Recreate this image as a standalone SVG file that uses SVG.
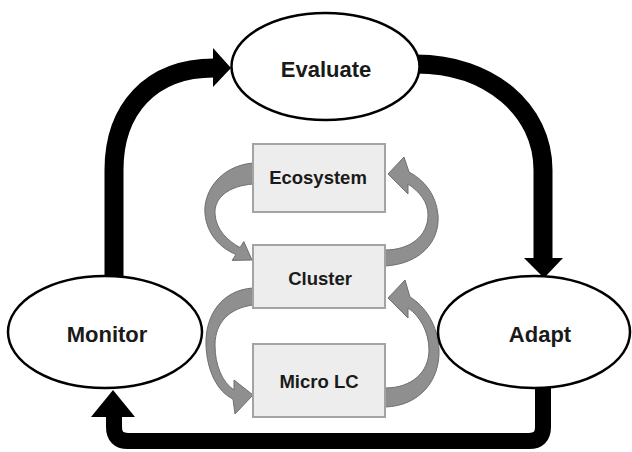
<svg xmlns="http://www.w3.org/2000/svg" width="632" height="452" viewBox="0 0 632 452">
<style>
.ell{fill:#fff;stroke:#000;stroke-width:2.5}
.box{fill:#ededed;stroke:#a3a3a3;stroke-width:2}
.big{font-family:"Liberation Sans",Arial,sans-serif;font-weight:bold;font-size:22px;fill:#1a1a1a;text-anchor:middle}
.sm{font-family:"Liberation Sans",Arial,sans-serif;font-weight:bold;font-size:18.5px;fill:#1a1a1a;text-anchor:middle}
.blk{fill:none;stroke:#000;stroke-width:19}
.blk2{fill:none;stroke:#000;stroke-width:16}
.gry{fill:#8f8f8f;stroke:#6f6f6f;stroke-width:1}
</style>
<rect width="632" height="452" fill="#fff"/>
<g id="connectors">
  <path class="blk" d="M114,280 L114,170 C114,110 150,68 214,68"/>
  <polygon points="213,48 213,87 231,68" fill="#000"/>
  <path class="blk" d="M416,64 C490,64 543,110 543,170 L543,259"/>
  <polygon points="524,258 563,258 544,278" fill="#000"/>
  <path class="blk2" d="M543,386 L543,427 Q543,441 529,441 L128,441 Q114,441 114,427 L114,416"/>
  <polygon points="91,417 135,417 113,390" fill="#000"/>
  <path class="gry" d="M253,163 C220,166 203,192 205,214 C207,234 220,248 235.9,254.4 L232.2,260.4 L252,260 L243.8,241.6 L240.1,247.6 C228,241 216,230 215,214 C214,198 228,186 253,184 Z"/>
  <path class="gry" d="M385,266 C420,264 440,242 438,215 C436,194 424,180 409,172 L404,157 L388,174 L408,194 L408,184 C420,192 428,202 428,215 C428,236 410,250 385,250 Z"/>
  <path class="gry" d="M253,288 C222,290 205,315 206,345 C207,372 218,392 233,399 L235,414 L253,395 L234,380 L234,390 C222,382 215,365 215,345 C215,322 230,308 253,305 Z"/>
  <path class="gry" d="M385,407 C420,406 440,380 439,350 C438,325 425,306 410,297 L405,280 L388,298 L408,318 L408,308 C420,316 429,332 429,350 C429,372 412,388 385,388 Z"/>
</g>
<g id="evaluate">
  <ellipse class="ell" cx="325.5" cy="66.5" rx="94" ry="53.5"/>
  <text class="big" x="326" y="77">Evaluate</text>
</g>
<g id="monitor">
  <ellipse class="ell" cx="105" cy="332" rx="97" ry="56"/>
  <text class="big" x="107" y="342">Monitor</text>
</g>
<g id="adapt">
  <ellipse class="ell" cx="534" cy="332" rx="96" ry="56"/>
  <text class="big" x="540" y="342">Adapt</text>
</g>
<g id="ecosystem">
  <rect class="box" x="253" y="144" width="132" height="68"/>
  <text class="sm" x="318" y="184">Ecosystem</text>
</g>
<g id="cluster">
  <rect class="box" x="253" y="245" width="132" height="63"/>
  <text class="sm" x="320" y="285">Cluster</text>
</g>
<g id="microlc">
  <rect class="box" x="253" y="344" width="132" height="73"/>
  <text class="sm" x="319" y="388">Micro LC</text>
</g>
</svg>
